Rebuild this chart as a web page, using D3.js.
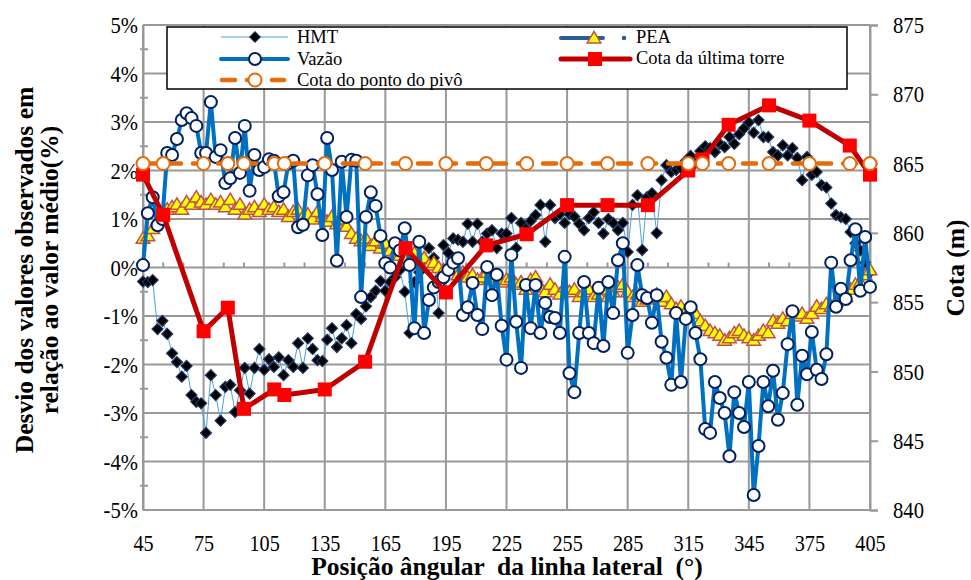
<!DOCTYPE html>
<html><head><meta charset="utf-8">
<script src="https://cdn.jsdelivr.net/npm/d3@7"></script>
<style>
body{margin:0;background:#fff}
svg{display:block}
svg text{font-family:"Liberation Serif","Times New Roman",serif !important;fill:#000}
</style>
</head><body>
<svg id="chart" width="971" height="580"></svg>
<script>
// Angular position of the lateral line (degrees) for the monitored series
const angles = [
  45, 47.4, 49.8, 52.2, 54.6, 57, 59.4, 61.8, 64.2, 66.6,
  69, 71.4, 73.8, 76.2, 78.6, 81, 83.4, 85.8, 88.2, 90.6,
  93, 95.4, 97.8, 100.2, 102.6, 105, 107.4, 109.8, 112.2, 114.6,
  117, 119.4, 121.8, 124.2, 126.6, 129, 131.4, 133.8, 136.2, 138.6,
  141, 143.4, 145.8, 148.2, 150.6, 153, 155.4, 157.8, 160.2, 162.6,
  165, 167.4, 169.8, 172.2, 174.6, 177, 179.4, 181.8, 184.2, 186.6,
  189, 191.4, 193.8, 196.2, 198.6, 201, 203.4, 205.8, 208.2, 210.6,
  213, 215.4, 217.8, 220.2, 222.6, 225, 227.4, 229.8, 232.2, 234.6,
  237, 239.4, 241.8, 244.2, 246.6, 249, 251.4, 253.8, 256.2, 258.6,
  261, 263.4, 265.8, 268.2, 270.6, 273, 275.4, 277.8, 280.2, 282.6,
  285, 287.4, 289.8, 292.2, 294.6, 297, 299.4, 301.8, 304.2, 306.6,
  309, 311.4, 313.8, 316.2, 318.6, 321, 323.4, 325.8, 328.2, 330.6,
  333, 335.4, 337.8, 340.2, 342.6, 345, 347.4, 349.8, 352.2, 354.6,
  357, 359.4, 361.8, 364.2, 366.6, 369, 371.4, 373.8, 376.2, 378.6,
  381, 383.4, 385.8, 388.2, 390.6, 393, 395.4, 397.8, 400.2, 402.6,
  405
];

// Deviation from the mean value (%)
const hmt = [
  -0.29, -0.30, -0.26, -1.27, -1.10, -1.37, -1.77, -1.95, -2.25, -2.03,
  -2.63, -2.77, -2.80, -3.41, -2.22, -2.63, -3.16, -2.46, -2.42, -2.98,
  -2.53, -2.07, -2.60, -2.07, -1.68, -2.11, -1.89, -2.05, -1.85, -2.22,
  -1.91, -2.05, -1.56, -2.07, -1.46, -1.68, -1.91, -1.93, -1.49, -1.25,
  -1.64, -1.46, -1.19, -1.56, -0.96, -1.06, -0.80, -0.61, -0.48, -0.28,
  -0.48, -0.30, -0.20, -0.05, -0.50, -1.35, -0.30, -0.10, 0.15, 0.40,
  0.20, -0.94, 0.46, 0.30, 0.60, 0.57, 0.53, 0.90, 0.53, 0.90,
  0.53, 0.70, 0.77, 0.40, 0.70, 0.70, 1.02, 0.40, 0.92, 0.80,
  0.96, 1.08, 1.29, 0.53, 1.29, 1.02, 1.10, 0.92, 1.10, 1.05,
  0.90, 0.77, 1.02, 1.14, 0.92, 0.70, 1.00, 0.92, 0.77, 0.92,
  0.32, 1.29, 1.49, 0.36, 1.45, 1.53, 0.71, 1.80, 2.11, 1.97,
  2.01, 2.05, 2.20, 2.30, 2.15, 2.40, 2.50, 2.46, 2.38, 2.55,
  2.48, 2.69, 2.55, 2.75, 2.87, 2.99, 2.78, 3.04, 2.69, 2.69,
  2.38, 2.31, 2.52, 2.31, 2.46, 2.26, 1.80, 2.28, 1.91, 1.97,
  1.70, 1.65, 1.32, 1.08, 1.04, 1.00, 0.73, 0.50, 0.35, 0.10,
  -0.10
];

const vazao = [
  0.05, 1.12, 1.45, 0.87, 1.00, 2.36, 2.32, 2.65, 3.04, 3.18,
  3.08, 2.92, 2.36, 2.36, 3.41, 2.28, 2.42, 1.74, 1.84, 2.67,
  1.95, 2.92, 1.58, 2.32, 2.01, 2.07, 2.23, 2.20, 1.47, 1.55,
  2.15, 2.20, 0.83, 0.88, 1.90, 2.11, 1.51, 0.67, 2.67, 2.01,
  0.14, 2.18, 1.04, 2.22, 2.20, -0.61, 1.04, 1.55, 1.27, 0.65,
  0.09, 0.00, 0.50, 0.35, 0.81, 0.05, -1.25, 0.53, -1.35, -0.67,
  -0.41, -0.30, -0.20, -0.05, 0.10, 0.19, -0.98, -0.82, -0.32, -0.98,
  -1.27, 0.01, -0.57, -0.15, -1.20, -1.90, 0.26, -1.12, -2.07, -0.36,
  -1.25, -0.36, -1.35, -0.73, -1.02, -1.04, -1.35, 0.22, -2.18, -2.57,
  -1.35, -0.30, -1.35, -1.56, -0.42, -1.62, -0.30, -0.94, 0.15, 0.50,
  -1.76, -0.98, 0.05, -0.57, -0.63, -1.14, -0.57, -1.53, -1.86, -2.42,
  -0.94, -2.36, -1.06, -0.82, -1.35, -1.89, -3.33, -3.41, -2.36, -2.69,
  -3.00, -3.89, -2.57, -3.00, -3.29, -2.36, -4.69, -3.68, -2.36, -2.86,
  -2.13, -3.14, -2.59, -1.58, -0.90, -2.83, -1.82, -2.20, -1.33, -2.11,
  -2.30, -1.79, 0.10, -0.81, -0.44, -0.65, 0.15, 0.79, -0.48, 0.63,
  -0.40
];

const pea = [
  0.60, 0.65, 0.80, 0.95, 1.10, 1.20, 1.25, 1.30, 1.20, 1.35,
  1.30, 1.45, 1.35, 1.30, 1.40, 1.30, 1.35, 1.25, 1.40, 1.20,
  1.30, 1.10, 1.20, 1.25, 1.15, 1.30, 1.20, 1.25, 1.15, 1.20,
  1.05, 1.15, 1.20, 1.05, 1.10, 1.00, 1.15, 1.05, 0.95, 1.05,
  0.90, 1.00, 0.85, 0.70, 0.60, 0.55, 0.60, 0.45, 0.55, 0.40,
  0.50, 0.35, 0.30, 0.25, 0.20, 0.15, 0.30, 0.10, 0.20, 0.05,
  0.10, 0.00, -0.05, -0.05, 0.00, -0.15, -0.10, -0.20, -0.15, -0.25,
  -0.20, -0.10, -0.25, -0.20, -0.30, -0.25, -0.20, -0.35, -0.30, -0.45,
  -0.25, -0.20, -0.40, -0.50, -0.35, -0.45, -0.55, -0.40, -0.50, -0.45,
  -0.60, -0.50, -0.45, -0.60, -0.55, -0.45, -0.60, -0.50, -0.40, -0.35,
  -0.50, -0.60, -0.55, -0.70, -0.65, -0.60, -0.55, -0.70, -0.60, -0.75,
  -0.85, -0.80, -0.90, -0.85, -0.95, -1.10, -1.20, -1.30, -1.35, -1.40,
  -1.50, -1.45, -1.35, -1.30, -1.40, -1.45, -1.50, -1.40, -1.30, -1.35,
  -1.10, -1.15, -1.05, -1.10, -0.95, -1.00, -0.95, -1.05, -0.95, -0.80,
  -0.85, -0.75, -0.80, -0.70, -0.55, -0.60, -0.45, -0.35, -0.30, -0.15,
  -0.05
];

// Elevation series (m), secondary axis
const cotaAngles = [45, 55, 75, 87, 95, 110, 115, 135, 155, 175, 195, 215, 235, 255, 275, 295, 315, 322, 335, 355, 375, 395, 405];
const cotaTorre = [864.2, 861.3, 852.9, 854.6, 847.3, 848.7, 848.3, 848.7, 850.7, 858.9, 855.7, 859.1, 859.9, 862.0, 862.0, 862.0, 864.5, 865.3, 867.8, 869.2, 868.1, 866.3, 864.2];
const cotaPivo = [865, 865, 865, 865, 865, 865, 865, 865, 865, 865, 865, 865, 865, 865, 865, 865, 865, 865, 865, 865, 865, 865, 865];

const pctTicks = [-5, -4, -3, -2, -1, 0, 1, 2, 3, 4, 5];
const cotaTicks = [840, 845, 850, 855, 860, 865, 870, 875];
const angleTicks = [45, 75, 105, 135, 165, 195, 225, 255, 285, 315, 345, 375, 405];

const svg = d3.select("#chart");
const L = 143, R = 870, T = 25, B = 510;
const x = d3.scaleLinear().domain([45, 405]).range([L, R]);
const y = d3.scaleLinear().domain([-5, 5]).range([B, T]);
const y2 = d3.scaleLinear().domain([840, 875]).range([B, T]);
const GRID = "#999999";
const SERIF = '"Liberation Serif","Times New Roman",serif';

// grid
const grid = svg.append("g");
grid.selectAll("line.h").data(pctTicks).join("line")
  .attr("x1", L).attr("x2", R).attr("y1", d => y(d)).attr("y2", d => y(d))
  .attr("stroke", GRID).attr("stroke-width", 2);
grid.selectAll("line.v").data(angleTicks).join("line")
  .attr("y1", T).attr("y2", B).attr("x1", d => x(d)).attr("x2", d => x(d))
  .attr("stroke", GRID).attr("stroke-width", 2);

// minor ticks: left axis every 0.5 %, horizontal axis (at 0 %) every 10°
const minorPct = d3.range(-4.5, 5, 1);
grid.selectAll("line.mp").data(minorPct).join("line")
  .attr("x1", L - 3).attr("x2", L + 5).attr("y1", d => y(d)).attr("y2", d => y(d))
  .attr("stroke", GRID).attr("stroke-width", 2);
const minorAng = d3.range(55, 405, 10).filter(v => (v - 45) % 30 !== 0);
grid.selectAll("line.ma").data(minorAng).join("line")
  .attr("x1", d => x(d)).attr("x2", d => x(d)).attr("y1", y(0) - 5).attr("y2", y(0))
  .attr("stroke", GRID).attr("stroke-width", 2);

// axes (tick labels drawn in a narrow serif)
const axL = svg.append("g").attr("transform", `translate(${L},0)`)
  .call(d3.axisLeft(y).tickValues(pctTicks).tickFormat(d => d + "%").tickSize(0).tickPadding(0));
const axR = svg.append("g").attr("transform", `translate(${R},0)`)
  .call(d3.axisRight(y2).tickValues(cotaTicks).tickSize(8).tickPadding(0));
const axB = svg.append("g").attr("transform", `translate(0,${B})`)
  .call(d3.axisBottom(x).tickValues(angleTicks).tickSize(0).tickPadding(0));
[axL, axR, axB].forEach(a => {
  a.attr("font-family", SERIF);
  a.select(".domain").attr("stroke", GRID).attr("stroke-width", 2);
  a.selectAll(".tick line").attr("stroke", GRID).attr("stroke-width", 2);
  a.selectAll("text").style("font-size", "24px").attr("fill", "#000");
});
axB.select(".domain").remove();
axL.selectAll("text").attr("x", null).attr("transform", "translate(-5,0) scale(0.86,1)");
axR.selectAll("text").attr("x", null).attr("transform", "translate(23,0) scale(0.86,1)");
axB.selectAll("text").attr("y", null).attr("dy", null).style("font-size", "23.5px")
  .attr("transform", "translate(0,41) scale(0.86,1)");

const pts = vals => vals.map((v, i) => [angles[i], v]);

// HMT
const lineL = d3.line().x(d => x(d[0])).y(d => y(d[1]));
const lineR = d3.line().x(d => x(d[0])).y(d => y2(d[1]));
svg.append("path").attr("d", lineL(pts(hmt))).attr("fill", "none")
  .attr("stroke", "#4f9fe0").attr("stroke-width", 1);
const diamond = s => `M0,${-s}L${s},0L0,${s}L${-s},0Z`;
svg.append("g").selectAll("path").data(pts(hmt)).join("path")
  .attr("d", diamond(5.5)).attr("transform", d => `translate(${x(d[0])},${y(d[1])})`)
  .attr("fill", "#000").attr("stroke", "#1f3864").attr("stroke-width", 1.2);

// PEA
const tri = s => `M0,${-s}L${s * 1.05},${s * 0.75}L${-s * 1.05},${s * 0.75}Z`;
svg.append("g").selectAll("path").data(pts(pea)).join("path")
  .attr("d", tri(6.5)).attr("transform", d => `translate(${x(d[0])},${y(d[1])})`)
  .attr("fill", "#ffff00").attr("stroke", "#c0504d").attr("stroke-width", 1.5);

// Vazão
svg.append("path").attr("d", lineL(pts(vazao))).attr("fill", "none")
  .attr("stroke", "#0070c0").attr("stroke-width", 4).attr("stroke-linejoin", "round");
svg.append("g").selectAll("circle").data(pts(vazao)).join("circle")
  .attr("cx", d => x(d[0])).attr("cy", d => y(d[1])).attr("r", 6)
  .attr("fill", "#fff").attr("stroke", "#002060").attr("stroke-width", 2);

// Cota da última torre
const torre = cotaAngles.map((a, i) => [a, cotaTorre[i]]);
svg.append("path").attr("d", lineR(torre)).attr("fill", "none")
  .attr("stroke", "#c00000").attr("stroke-width", 5).attr("stroke-linejoin", "round");
svg.append("g").selectAll("rect").data(torre).join("rect")
  .attr("x", d => x(d[0]) - 7).attr("y", d => y2(d[1]) - 7).attr("width", 14).attr("height", 14)
  .attr("fill", "#ff0000");

// Cota do ponto do pivô
const pivo = cotaAngles.map((a, i) => [a, cotaPivo[i]]);
svg.append("path").attr("d", lineR(pivo)).attr("fill", "none")
  .attr("stroke", "#e46c0a").attr("stroke-width", 4.5).attr("stroke-dasharray", "13,12")
  .attr("stroke-linecap", "round");
svg.append("g").selectAll("circle").data(pivo).join("circle")
  .attr("cx", d => x(d[0])).attr("cy", d => y2(d[1])).attr("r", 6.5)
  .attr("fill", "#fff").attr("stroke", "#e46c0a").attr("stroke-width", 2);

// legend
const lg = svg.append("g");
lg.append("rect").attr("x", 167).attr("y", 27).attr("width", 680).attr("height", 62)
  .attr("fill", "#fff").attr("stroke", "#000").attr("stroke-width", 1.5);
const fs = "18.5px";
// HMT
lg.append("line").attr("x1", 221).attr("x2", 288).attr("y1", 37).attr("y2", 37)
  .attr("stroke", "#4f9fe0").attr("stroke-width", 1);
lg.append("path").attr("d", diamond(5.5)).attr("transform", "translate(255,37)")
  .attr("fill", "#000").attr("stroke", "#1f3864");
lg.append("text").attr("x", 297).attr("y", 37).attr("dy", "0.35em").style("font-size", fs).text("HMT");
// Vazão
lg.append("line").attr("x1", 221).attr("x2", 288).attr("y1", 59).attr("y2", 59)
  .attr("stroke", "#0070c0").attr("stroke-width", 4).attr("stroke-linecap", "round");
lg.append("circle").attr("cx", 255).attr("cy", 59).attr("r", 6)
  .attr("fill", "#fff").attr("stroke", "#002060").attr("stroke-width", 2);
lg.append("text").attr("x", 297).attr("y", 59).attr("dy", "0.35em").style("font-size", fs).text("Vazão");
// Cota do ponto do pivô
lg.append("line").attr("x1", 222).attr("x2", 284).attr("y1", 80).attr("y2", 80)
  .attr("stroke", "#e46c0a").attr("stroke-width", 4.5).attr("stroke-dasharray", "13,12")
  .attr("stroke-linecap", "round");
lg.append("circle").attr("cx", 255).attr("cy", 80).attr("r", 6.5)
  .attr("fill", "#fff").attr("stroke", "#e46c0a").attr("stroke-width", 2);
lg.append("text").attr("x", 297).attr("y", 80).attr("dy", "0.35em").style("font-size", fs).text("Cota do ponto do pivô");
// PEA
lg.append("line").attr("x1", 561).attr("x2", 603).attr("y1", 38).attr("y2", 38)
  .attr("stroke", "#2e5c96").attr("stroke-width", 4).attr("stroke-linecap", "round");
lg.append("path").attr("d", tri(6.5)).attr("transform", "translate(594,38)")
  .attr("fill", "#ffff00").attr("stroke", "#c0504d").attr("stroke-width", 1.5);
lg.append("circle").attr("cx", 624).attr("cy", 38).attr("r", 2.3).attr("fill", "#2e5c96");
lg.append("text").attr("x", 636).attr("y", 37).attr("dy", "0.35em").style("font-size", fs).text("PEA");
// Cota da última torre
lg.append("line").attr("x1", 561).attr("x2", 630).attr("y1", 59).attr("y2", 59)
  .attr("stroke", "#c00000").attr("stroke-width", 5).attr("stroke-linecap", "round");
lg.append("rect").attr("x", 588).attr("y", 52).attr("width", 14).attr("height", 14).attr("fill", "#ff0000");
lg.append("text").attr("x", 636).attr("y", 58).attr("dy", "0.35em").style("font-size", fs).text("Cota da última torre");

// axis titles
const title = (sel) => sel.style("font-size", "25.5px").style("font-weight", "bold").attr("text-anchor", "middle");
svg.append("text").call(title).attr("transform", "translate(33,270) rotate(-90)")
  .text("Desvio dos valores observados em");
svg.append("text").call(title).attr("transform", "translate(58,270) rotate(-90)")
  .text("relação ao valor médio(%)");
svg.append("text").call(title).attr("transform", "translate(964,268) rotate(-90)")
  .text("Cota (m)");
svg.append("text").call(title).attr("x", 507).attr("y", 575).style("white-space", "pre")
  .text("Posição ângular  da linha lateral  (°)");
</script>
</body></html>
